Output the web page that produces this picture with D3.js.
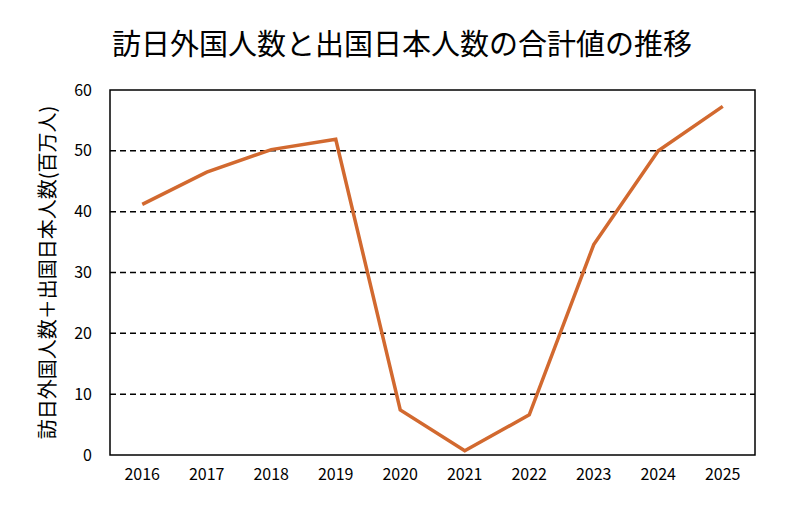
<!DOCTYPE html>
<html>
<head>
<meta charset="utf-8">
<script src="https://cdn.jsdelivr.net/npm/d3@7"></script>
<style>
  body { margin: 0; background: #fff; }
  text { font-family: "Noto Sans CJK JP", sans-serif; }
</style>
</head>
<body>
<div id="chart-area"></div>
<script>
var years = ["2016", "2017", "2018", "2019", "2020", "2021", "2022", "2023", "2024", "2025"];
var totals = [41.2, 46.5, 50.2, 51.9, 7.4, 0.7, 6.6, 34.6, 50.0, 57.3];
var yTicks = [0, 10, 20, 30, 40, 50, 60];

var width = 800,
    height = 509;
var margin = {top: 90, right: 45, bottom: 54, left: 110};

var svg = d3.select("#chart-area").append("svg")
    .attr("width", width)
    .attr("height", height);

var x = d3.scaleBand()
    .domain(years)
    .range([margin.left, width - margin.right]);

var y = d3.scaleLinear()
    .domain([0, 60])
    .range([height - margin.bottom, margin.top]);

// title
svg.append("text")
    .attr("x", 402)
    .attr("y", 55)
    .attr("text-anchor", "middle")
    .style("font-size", "29px")
    .text("訪日外国人数と出国日本人数の合計値の推移");

// dashed grid lines
svg.selectAll(".grid")
    .data(yTicks.filter(function(d) { return d > 0 && d < 60; }))
    .enter()
    .append("line")
    .attr("class", "grid")
    .attr("x1", margin.left)
    .attr("x2", width - margin.right)
    .attr("y1", function(d) { return y(d); })
    .attr("y2", function(d) { return y(d); })
    .style("stroke", "#000")
    .style("stroke-width", 1.5)
    .style("stroke-dasharray", "6,4");

// plot frame
svg.append("rect")
    .attr("x", margin.left)
    .attr("y", margin.top)
    .attr("width", width - margin.left - margin.right)
    .attr("height", height - margin.top - margin.bottom)
    .style("fill", "none")
    .style("stroke", "#000")
    .style("stroke-width", 1.5);

// y axis labels
var yAxis = d3.axisLeft(y).tickValues(yTicks).tickSize(0).tickPadding(18);
var gy = svg.append("g")
    .attr("transform", "translate(" + margin.left + ",0)")
    .call(yAxis);
gy.select(".domain").remove();
gy.selectAll("text")
    .style("font-family", "'Noto Sans CJK JP', sans-serif")
    .style("font-size", "16px")
    .style("fill", "#000");

// x axis labels
var xAxis = d3.axisBottom(x).tickSize(0).tickPadding(14);
var gx = svg.append("g")
    .attr("transform", "translate(0," + (height - margin.bottom) + ")")
    .call(xAxis);
gx.select(".domain").remove();
gx.selectAll("text")
    .style("font-family", "'Noto Sans CJK JP', sans-serif")
    .style("font-size", "16px")
    .style("fill", "#000");

// y axis title
svg.append("text")
    .attr("transform", "translate(55," + (margin.top + (height - margin.top - margin.bottom) / 2) + ") rotate(-90)")
    .attr("text-anchor", "middle")
    .style("font-size", "20px")
    .text("訪日外国人数＋出国日本人数(百万人)");

// line
var line = d3.line()
    .x(function(d, i) { return x(years[i]) + x.bandwidth() / 2; })
    .y(function(d) { return y(d); });

svg.append("path")
    .datum(totals)
    .attr("d", line)
    .style("fill", "none")
    .style("stroke", "#D2692F")
    .style("stroke-width", 3.5)
    .style("stroke-linejoin", "miter");
</script>
</body>
</html>
